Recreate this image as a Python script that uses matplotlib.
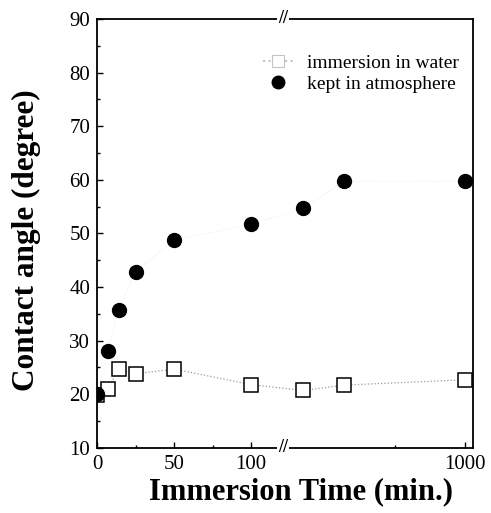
#!/usr/bin/env python3

import numpy as np
import matplotlib
matplotlib.use('Agg')
import matplotlib.pyplot as plt
from matplotlib.lines import Line2D

# datos
tiempo = [0, 7, 14, 25, 50, 100, 200, 300, 1000]
angulo_agua = [19.9, 20.9, 24.8, 23.8, 24.7, 21.8, 20.7, 21.7, 22.7]
angulo_atm = [20, 28.1, 35.8, 42.8, 48.8, 51.7, 54.7, 59.7, 59.7]

ticks_mayores = [0, 50, 100, 1000]
ticks_menores = [25, 75, 500]
etiquetas_x = ['0', '50', '100', '1000']

# eje x partido: lineal hasta XB1, logaritmico desde XB2
XB1, XB2 = 121.7, 167.0
S = 1.545       # unidades por minuto (tramo lineal)
D = 232.0       # unidades por decada (tramo log)
G = 0.5
U1 = XB1 * S


def adelante(x):
    x = np.asarray(x, dtype=float)
    with np.errstate(divide='ignore', invalid='ignore'):
        der = U1 + G + D * np.log10(np.maximum(x, 1e-9) / XB2)
    medio = U1 + (x - XB1) / (XB2 - XB1) * G
    return np.where(x <= XB1, x * S, np.where(x >= XB2, der, medio))


def atras(u):
    u = np.asarray(u, dtype=float)
    der = XB2 * 10 ** ((u - U1 - G) / D)
    medio = XB1 + (u - U1) / G * (XB2 - XB1)
    return np.where(u <= U1, u / S, np.where(u >= U1 + G, der, medio))


plt.rcParams['font.family'] = ['Liberation Serif', 'DejaVu Serif']

fig = plt.figure(figsize=(4.91, 5.13), dpi=100)
ax = fig.add_axes([0.1976, 0.127, 0.7654, 0.836])
ax.set_xscale('function', functions=(adelante, atras))

ax.plot(tiempo, angulo_atm, ls=':', color='#ececec', lw=0.7, zorder=1)
ax.plot(tiempo, angulo_agua, ls=':', color='#9a9a9a', lw=0.9, zorder=1)
ax.plot(tiempo, angulo_agua, ls='none', marker='s', ms=10.5,
        mfc='white', mec='black', mew=1.1, zorder=3)
ax.plot(tiempo, angulo_atm, ls='none', marker='o', ms=10,
        mfc='black', mec='black', zorder=4)

ax.set_xlim(0, 1083)
ax.set_ylim(10, 90)
ax.set_xticks(ticks_mayores)
ax.set_xticklabels(etiquetas_x)
ax.set_xticks(ticks_menores, minor=True)
ax.set_yticks(np.arange(10, 91, 10))
ax.set_yticks(np.arange(15, 90, 10), minor=True)
ax.tick_params(which='both', direction='in', labelsize=15,
               top=False, right=False, width=1)
ax.tick_params(which='major', length=4)
ax.tick_params(which='minor', length=2.5)
ax.tick_params(axis='x', pad=5)
ax.tick_params(axis='y', pad=5)
for sp in ax.spines.values():
    sp.set_linewidth(1.3)

# marcas de corte
for yy in (0, 1):
    ax.text(XB1 - 1, yy, '//', transform=ax.get_xaxis_transform(),
            ha='center', va='center', fontsize=13, fontweight='bold',
            bbox=dict(facecolor='white', edgecolor='none', pad=0.5),
            clip_on=False, zorder=5)

ax.set_xlabel('Immersion Time (min.)', fontsize=22, fontweight='bold')
ax.xaxis.set_label_coords(0.544, -0.068)
ax.set_ylabel('Contact angle (degree)', fontsize=22.5, fontweight='bold')
ax.yaxis.set_label_coords(-0.148, 0.485)

manejadores = [
    Line2D([], [], ls=':', color='#c4c4c4', marker='s', ms=8,
           mfc='white', mec='#c4c4c4', mew=0.8),
    Line2D([], [], ls='none', marker='o', ms=9, mfc='black', mec='black'),
]
ax.legend(manejadores, ['immersion in water', 'kept in atmosphere'],
          loc='upper right', bbox_to_anchor=(1.0, 0.95), frameon=False,
          fontsize=14, handlelength=1.6, handletextpad=0.7,
          labelspacing=0.2, borderaxespad=0.3)

plt.savefig('out.png', dpi=100)
